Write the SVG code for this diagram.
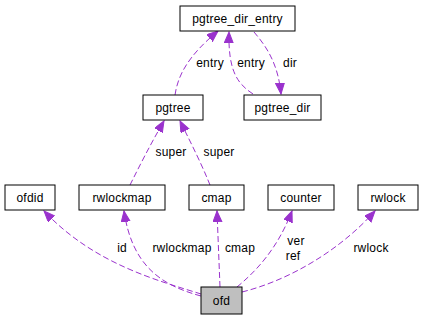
<svg xmlns="http://www.w3.org/2000/svg" width="423" height="320" viewBox="0 0 423 320">
  <style>
    .node rect { fill: #ffffff; stroke: #000000; stroke-width: 1; }
    .node.root rect { fill: #bfbfbf; }
    text { font-family: "Liberation Sans", Arial, sans-serif; font-size: 12px; letter-spacing: 0.2px; fill: #000000; text-anchor: middle; }
    .edge { fill: none; stroke: #9a32cd; stroke-width: 1; stroke-dasharray: 6,3; marker-end: url(#arrow); }
  </style>
  <defs>
    <marker id="arrow" markerUnits="userSpaceOnUse" markerWidth="12" markerHeight="10" refX="11" refY="4.5" orient="auto">
      <path d="M0,0 L11,4.5 L0,9 z" fill="#9a32cd" stroke="#9a32cd" stroke-width="1"/>
    </marker>
  </defs>

  <g id="connectors">
    <!-- pgtree -> pgtree_dir_entry -->
    <path class="edge" d="M175,95 C178,75 188,56 218,31"/>
    <!-- pgtree_dir -> pgtree_dir_entry -->
    <path class="edge" d="M253,94 C238,84 228,72 229,32"/>
    <!-- pgtree_dir_entry -> pgtree_dir -->
    <path class="edge" d="M254,32 C265,45 278,62 281,94"/>
    <!-- rwlockmap -> pgtree -->
    <path class="edge" d="M130,185 C140,165 150,145 164,121"/>
    <!-- cmap -> pgtree -->
    <path class="edge" d="M210,185 C202,165 192,145 180,121"/>
    <!-- ofd -> ofdid -->
    <path class="edge" d="M201,294 C160,281 95,265 44,211"/>
    <!-- ofd -> rwlockmap -->
    <path class="edge" d="M201,296 C160,285 132,265 124,211"/>
    <!-- ofd -> cmap -->
    <path class="edge" d="M220,287 L217,211"/>
    <!-- ofd -> counter -->
    <path class="edge" d="M237,287 C255,272 277,250 292,211"/>
    <!-- ofd -> rwlock -->
    <path class="edge" d="M242,292 C290,280 340,250 375,211"/>

    <text x="210" y="67">entry</text>
    <text x="251" y="67">entry</text>
    <text x="290" y="67">dir</text>
    <text x="171" y="156">super</text>
    <text x="219" y="156">super</text>
    <text x="122" y="252">id</text>
    <text x="182" y="252">rwlockmap</text>
    <text x="240" y="252">cmap</text>
    <text x="296" y="245">ver</text>
    <text x="293" y="260">ref</text>
    <text x="371" y="252">rwlock</text>
  </g>

  <g id="pgtree_dir_entry" class="node">
    <rect x="180" y="6" width="115" height="25"/>
    <text x="237.5" y="22.5">pgtree_dir_entry</text>
  </g>
  <g id="pgtree" class="node">
    <rect x="143" y="95" width="60" height="25"/>
    <text x="173" y="111.5">pgtree</text>
  </g>
  <g id="pgtree_dir" class="node">
    <rect x="244" y="95" width="77" height="25"/>
    <text x="282.5" y="111.5">pgtree_dir</text>
  </g>
  <g id="ofdid" class="node">
    <rect x="5" y="185" width="50" height="25"/>
    <text x="30" y="201.5">ofdid</text>
  </g>
  <g id="rwlockmap" class="node">
    <rect x="79" y="185" width="86" height="25"/>
    <text x="122" y="201.5">rwlockmap</text>
  </g>
  <g id="cmap" class="node">
    <rect x="189" y="185" width="55" height="25"/>
    <text x="216.5" y="201.5">cmap</text>
  </g>
  <g id="counter" class="node">
    <rect x="268" y="185" width="66" height="25"/>
    <text x="301" y="201.5">counter</text>
  </g>
  <g id="rwlock" class="node">
    <rect x="358" y="185" width="60" height="25"/>
    <text x="388" y="201.5">rwlock</text>
  </g>
  <g id="ofd" class="node root">
    <rect x="201" y="287" width="41" height="27"/>
    <text x="221.5" y="304.5">ofd</text>
  </g>
</svg>
